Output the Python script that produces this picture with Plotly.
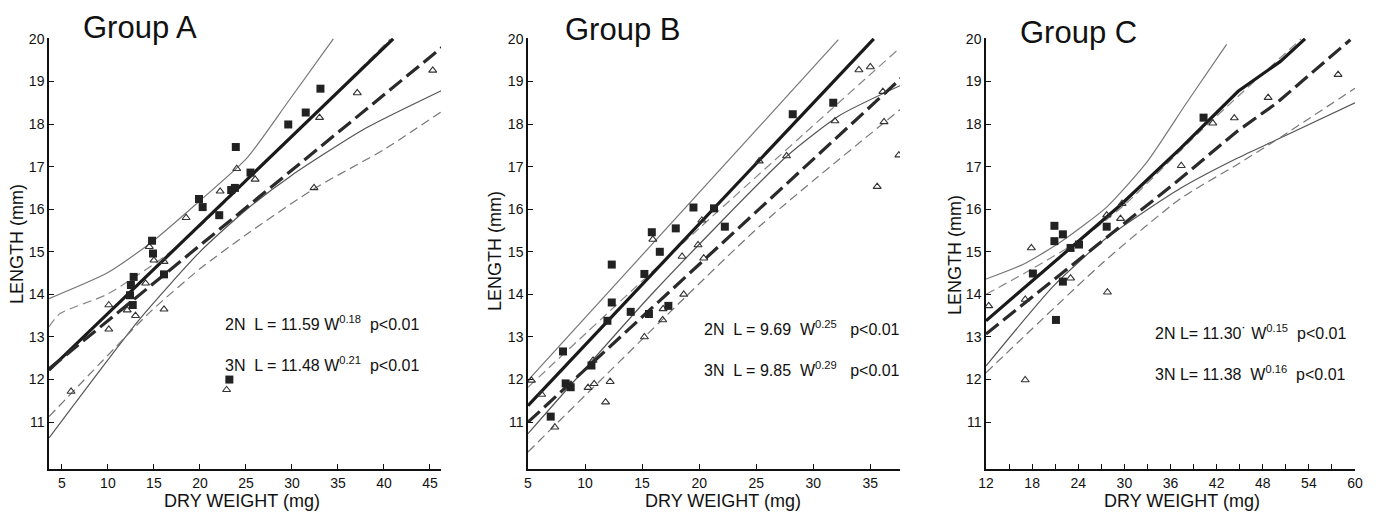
import plotly.graph_objects as go
from plotly.subplots import make_subplots

# ---------------- Group A ----------------
a_sq_w = [33.1, 31.5, 29.6, 23.9, 25.5, 23.4, 23.8, 19.9, 20.3, 22.1, 14.8, 14.9,
          12.8, 12.5, 12.4, 12.7, 16.1, 23.2]
a_sq_l = [18.83, 18.27, 17.99, 17.46, 16.86, 16.45, 16.5, 16.24, 16.05, 15.86, 15.26, 14.96,
          14.41, 14.22, 13.98, 13.75, 14.47, 12.0]
a_tri_w = [45.3, 37.1, 33.0, 24.0, 26.0, 22.2, 18.5, 14.5, 15.0, 16.1, 14.1, 10.1,
           12.1, 16.1, 13.0, 10.1, 6.0, 22.9, 32.4]
a_tri_l = [19.26, 18.73, 18.15, 16.95, 16.70, 16.42, 15.80, 15.12, 14.80, 14.77, 14.26, 13.75,
           13.63, 13.65, 13.5, 13.18, 11.72, 11.76, 16.5]
a_fit2_w = [3.6, 41.0]
a_fit2_l = [12.22, 20.0]
a_fit3_w = [3.6, 46.3]
a_fit3_l = [12.25, 19.8]
a_up2_w = [3.6, 9.9, 14.6, 20.0, 25.1, 29.5, 34.5]
a_up2_l = [13.9, 14.5, 15.2, 16.2, 17.2, 18.5, 20.0]
a_lo2_w = [3.6, 13.3, 20.0, 25.1, 30.0, 38.0, 46.3]
a_lo2_l = [10.63, 13.38, 15.0, 16.0, 16.8, 17.9, 18.79]
a_up3_w = [3.6, 4.8, 9.9, 16.1, 20.0, 30.0, 40.7]
a_up3_l = [13.24, 13.55, 14.0, 14.88, 15.6, 17.7, 20.0]
a_lo3_w = [3.6, 9.5, 14.6, 20.0, 25.0, 32.4, 40.0, 46.3]
a_lo3_l = [11.13, 12.46, 13.59, 14.6, 15.4, 16.48, 17.4, 18.3]

# ---------------- Group B ----------------
b_sq_w = [31.75, 28.2, 19.5, 21.3, 17.95, 15.85, 16.55, 22.25, 12.34, 15.2, 12.34, 11.96,
          14.0, 15.6, 17.3, 8.07, 8.3, 8.74, 10.56, 6.99]
b_sq_l = [18.5, 18.23, 16.04, 16.02, 15.55, 15.46, 15.0, 15.59, 14.7, 14.48, 13.81, 13.38,
          13.59, 13.54, 13.73, 12.66, 11.91, 11.82, 12.33, 11.13]
b_tri_w = [37.5, 35.6, 34.0, 35.0, 36.1, 36.2, 31.9, 27.66, 25.26, 20.23, 19.9, 18.5, 20.4,
           18.65, 15.94, 15.2, 16.8, 16.84, 10.7, 10.26, 10.8, 12.2, 11.8, 6.2, 7.35, 5.3]
b_tri_l = [17.27, 16.53, 19.27, 19.34, 18.76, 18.05, 18.07, 17.25, 17.13, 15.74, 15.16, 14.89, 14.85,
           14.0, 15.29, 13.0, 13.4, 13.66, 12.45, 11.81, 11.9, 11.95, 11.47, 11.65, 10.88, 11.98]
b_fit2_w = [5.0, 35.3]
b_fit2_l = [11.39, 20.0]
b_fit3_w = [5.0, 37.8]
b_fit3_l = [11.0, 19.1]
b_up2_w = [5.0, 32.2]
b_up2_l = [11.98, 19.98]
b_lo2_w = [5.0, 16.0, 27.7, 32.3, 37.6]
b_lo2_l = [10.73, 14.05, 17.25, 18.2, 18.9]
b_up3_w = [5.0, 20.0, 37.6]
b_up3_l = [11.82, 15.55, 19.79]
b_lo3_w = [5.0, 25.3, 37.9]
b_lo3_l = [10.3, 15.6, 18.4]

# ---------------- Group C ----------------
c_sq_w = [40.3, 27.7, 20.9, 20.9, 22.0, 23.0, 24.1, 18.1, 22.0, 21.1]
c_sq_l = [18.15, 15.59, 15.61, 15.25, 15.41, 15.09, 15.17, 14.49, 14.3, 13.40]
c_tri_w = [57.8, 48.7, 44.3, 41.5, 37.4, 29.7, 29.5, 27.7, 27.8, 23.0, 17.9, 17.1, 12.35, 17.1]
c_tri_l = [19.16, 18.62, 18.14, 18.02, 17.02, 16.13, 15.78, 15.86, 14.05, 14.38, 15.09, 13.88, 13.73, 11.99]
c_fit2_w = [12.0, 29.5, 37.3, 44.8, 50.3, 53.5]
c_fit2_l = [13.38, 16.1, 17.43, 18.77, 19.47, 20.0]
c_fit3_w = [12.0, 29.5, 37.3, 44.6, 49.8, 59.4]
c_fit3_l = [13.07, 15.6, 16.72, 17.82, 18.49, 19.98]
c_up2_w = [12.0, 17.0, 21.7, 27.7, 32.9, 38.1, 43.3]
c_up2_l = [14.36, 14.72, 15.23, 16.05, 17.1, 18.5, 19.87]
c_lo2_w = [12.0, 20.8, 27.5, 37.3, 44.6, 49.8, 60.0]
c_lo2_l = [12.32, 14.2, 15.3, 16.49, 17.19, 17.63, 18.5]
c_up3_w = [12.0, 18.0, 24.0, 30.0, 40.0, 53.0]
c_up3_l = [14.0, 14.6, 15.25, 16.1, 17.85, 20.0]
c_lo3_w = [12.0, 27.3, 37.3, 44.6, 49.8, 60.0]
c_lo3_l = [12.16, 14.76, 16.25, 17.04, 17.63, 18.84]

groups = ["Group A", "Group B", "Group C"]
eq_2n = ["2N\u00a0\u00a0L = 11.59 W<sup>0.18</sup>\u00a0 p&lt;0.01",
         "2N\u00a0 L = 9.69\u00a0 W<sup>0.25</sup>\u00a0\u00a0 p&lt;0.01",
         "2N L= 11.30\u02d9 W<sup>0.15</sup>\u00a0 p&lt;0.01"]
eq_3n = ["3N\u00a0\u00a0L = 11.48 W<sup>0.21</sup>\u00a0 p&lt;0.01",
         "3N\u00a0 L = 9.85\u00a0 W<sup>0.29</sup>\u00a0\u00a0 p&lt;0.01",
         "3N L= 11.38\u00a0 W<sup>0.16</sup>\u00a0 p&lt;0.01"]

panels = [
    (a_sq_w, a_sq_l, a_tri_w, a_tri_l, a_fit2_w, a_fit2_l, a_fit3_w, a_fit3_l,
     a_up2_w, a_up2_l, a_lo2_w, a_lo2_l, a_up3_w, a_up3_l, a_lo3_w, a_lo3_l),
    (b_sq_w, b_sq_l, b_tri_w, b_tri_l, b_fit2_w, b_fit2_l, b_fit3_w, b_fit3_l,
     b_up2_w, b_up2_l, b_lo2_w, b_lo2_l, b_up3_w, b_up3_l, b_lo3_w, b_lo3_l),
    (c_sq_w, c_sq_l, c_tri_w, c_tri_l, c_fit2_w, c_fit2_l, c_fit3_w, c_fit3_l,
     c_up2_w, c_up2_l, c_lo2_w, c_lo2_l, c_up3_w, c_up3_l, c_lo3_w, c_lo3_l),
]

FONT = "Liberation Sans"
W, H = 1380, 517
OFF = 8                      # the page body adds 8px before the figure
TOP, BOT = 38 - OFF, H - (469 - OFF)


def px(x):
    return (x - OFF) / W


def py(y):
    # screen pixel row -> paper coordinate (paper spans the plot area between margins)
    return (H - BOT - (y - OFF)) / (H - TOP - BOT)


fig = make_subplots(rows=1, cols=3)

for i, p in enumerate(panels):
    (sq_w, sq_l, tri_w, tri_l, f2w, f2l, f3w, f3l,
     u2w, u2l, l2w, l2l, u3w, u3l, l3w, l3l) = p
    col = i + 1
    # confidence bands
    fig.add_trace(go.Scatter(x=u2w, y=u2l, mode="lines", line=dict(color="#777", width=1.2,
                             shape="spline", smoothing=0.6)), row=1, col=col)
    fig.add_trace(go.Scatter(x=l2w, y=l2l, mode="lines", line=dict(color="#555", width=1.2,
                             shape="spline", smoothing=0.6)), row=1, col=col)
    fig.add_trace(go.Scatter(x=u3w, y=u3l, mode="lines",
                             line=dict(color="#888", width=1.2, dash="9px,5px",
                                       shape="spline", smoothing=0.6)), row=1, col=col)
    fig.add_trace(go.Scatter(x=l3w, y=l3l, mode="lines",
                             line=dict(color="#777", width=1.2, dash="9px,5px",
                                       shape="spline", smoothing=0.6)), row=1, col=col)
    # regression lines
    fig.add_trace(go.Scatter(x=f2w, y=f2l, mode="lines", line=dict(color="#1a1a1a", width=3.2)),
                  row=1, col=col)
    fig.add_trace(go.Scatter(x=f3w, y=f3l, mode="lines",
                             line=dict(color="#2a2a2a", width=3.2, dash="16px,6px")),
                  row=1, col=col)
    # points
    fig.add_trace(go.Scatter(x=tri_w, y=tri_l, mode="markers",
                             marker=dict(symbol="triangle-up-open", size=7, color="#333",
                                         line=dict(width=1.1))), row=1, col=col)
    fig.add_trace(go.Scatter(x=sq_w, y=sq_l, mode="markers",
                             marker=dict(symbol="square", size=8, color="#222")),
                  row=1, col=col)

fig.update_traces(showlegend=False, hoverinfo="skip")

x_ranges = [[3.6, 46.2], [5, 37.6], [12, 60]]
x_edges = [[49, 441], [528, 900], [986, 1355]]
x_ticks = [[5, 10, 15, 20, 25, 30, 35, 40, 45],
           [5, 10, 15, 20, 25, 30, 35],
           [12, 18, 24, 30, 36, 42, 48, 54, 60]]
x_minor = [None, None, 3]
y_ticks = [11, 12, 13, 14, 15, 16, 17, 18, 19, 20]

for i in range(3):
    minor = dict(dtick=x_minor[i], tick0=12, ticks="inside", ticklen=5,
                 tickcolor="#111") if x_minor[i] else None
    fig.update_xaxes(range=x_ranges[i], domain=[px(x_edges[i][0]), px(x_edges[i][1])],
                     tickvals=x_ticks[i], showline=True, linecolor="#111", linewidth=1.5,
                     ticks="inside", ticklen=5, tickcolor="#111", showgrid=False,
                     zeroline=False, automargin=False, minor=minor,
                     tickfont=dict(family=FONT, size=14, color="#111"),
                     row=1, col=i + 1)
    fig.update_yaxes(range=[9.9, 20.02], tickvals=y_ticks, showline=True, linecolor="#111",
                     linewidth=1.5, ticks="inside", ticklen=5, tickcolor="#111",
                     showgrid=False, zeroline=False, automargin=False,
                     tickfont=dict(family=FONT, size=14, color="#111"),
                     row=1, col=i + 1)

title_x = [140, 622, 1078]
title_y = [27, 30, 32]
eq_x = [223, 702, 1153]
eq_y = [323, 328, 332]
xt_x = [242, 723, 1182]
yt_x = [17, 495, 955]
yt_y = [244, 251, 255]
for i in range(3):
    fig.add_annotation(text=groups[i], x=px(title_x[i]), y=py(title_y[i]), xref="paper",
                       yref="paper", showarrow=False, xanchor="center", yanchor="middle",
                       font=dict(family=FONT, size=31, color="#111"))
    fig.add_annotation(text=eq_2n[i], x=px(eq_x[i]), y=py(eq_y[i]), xref="paper",
                       yref="paper", showarrow=False, xanchor="left", yanchor="middle",
                       font=dict(family=FONT, size=16, color="#111"))
    fig.add_annotation(text=eq_3n[i], x=px(eq_x[i]), y=py(eq_y[i] + 41),
                       xref="paper", yref="paper", showarrow=False, xanchor="left",
                       yanchor="middle", font=dict(family=FONT, size=16, color="#111"))
    fig.add_annotation(text="DRY WEIGHT (mg)", x=px(xt_x[i]), y=py(501), xref="paper",
                       yref="paper", showarrow=False, xanchor="center", yanchor="middle",
                       font=dict(family=FONT, size=18, color="#111"))
    fig.add_annotation(text="LENGTH (mm)", x=px(yt_x[i]), y=py(yt_y[i]), xref="paper",
                       yref="paper", showarrow=False, xanchor="center", yanchor="middle",
                       textangle=-90, font=dict(family=FONT, size=18, color="#111"))

fig.update_layout(width=W, height=H, plot_bgcolor="white", paper_bgcolor="white",
                  margin=dict(l=0, r=0, t=TOP, b=BOT, autoexpand=False), showlegend=False)

fig.write_html("out.html")
